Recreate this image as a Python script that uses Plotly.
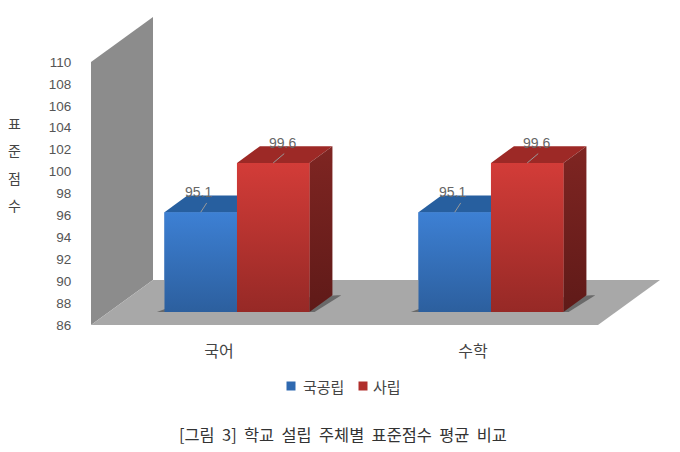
import plotly.graph_objects as go

categories = ["국어", "수학"]
public_scores = [95.1, 95.1]
private_scores = [99.6, 99.6]
y_ticks = list(range(86, 112, 2))
y_title_chars = ["표", "준", "점", "수"]
series_names = ["국공립", "사립"]
caption = "[그림 3] 학교 설립 주체별 표준점수 평균 비교"

FONT = "Noto Sans CJK KR"

# pixel scale of the fake 3d box
W, H = 680, 452
LEFT, RIGHT, TOP, BOTTOM = 91, 665, 8, 325
CAT_PX = 254.0
VAL_PX = 263.0 / 24
DEPTH_X, DEPTH_Y = 62.0, 45.0
X0_PX = 219.0  # where the first category sits on the front edge of the floor
BAR_W = 72.5 / CAT_PX
BAR_DEPTH = 0.29
BAR_BACK = 0.66


def project(x, v, d):
    # category position, value and depth (0 front, 1 back wall) to axis coords
    return x + d * DEPTH_X / CAT_PX, v + d * DEPTH_Y / VAL_PX


def poly(points, **kw):
    xs, ys = [], []
    for p in points:
        px, py = project(*p)
        xs.append(px)
        ys.append(py)
    xs.append(xs[0])
    ys.append(ys[0])
    return go.Scatter(x=xs, y=ys, mode="lines", fill="toself", line=dict(width=0),
                      showlegend=False, hoverinfo="skip", **kw)


def grad(top, bottom):
    return dict(type="vertical", colorscale=[[0, bottom], [1, top]])


def paper_x(px):
    # paper coords follow the plot area, not the page
    return (px - LEFT) / (RIGHT - LEFT)


def paper_y(py):
    return 1 - (py - TOP) / (BOTTOM - TOP)


def page_text(px, py, text, size, colour):
    fig.add_annotation(x=paper_x(px), y=paper_y(py), xref="paper", yref="paper", text=text,
                       xanchor="center", yanchor="middle", showarrow=False,
                       font=dict(family=FONT, size=size, color=colour))


fig = go.Figure()

x_wall = (LEFT - X0_PX) / CAT_PX
x_floor_end = (598 - X0_PX) / CAT_PX
base = y_ticks[0]
top_v = y_ticks[-1]

fig.add_trace(poly([(x_wall, base, 0), (x_wall, top_v, 0), (x_wall, top_v, 1), (x_wall, base, 1)],
                   fillcolor="#8c8c8c"))
fig.add_trace(poly([(x_wall, base, 0), (x_wall, base, 1), (x_floor_end, base, 1), (x_floor_end, base, 0)],
                   fillcolor="#a8a8a8"))

shift = BAR_DEPTH * DEPTH_X / CAT_PX
lift = BAR_DEPTH * DEPTH_Y / VAL_PX

for i in range(len(categories)):
    xl = i - BAR_W
    xr = i + BAR_W
    # shadow on the floor
    fig.add_trace(poly([(xl - 0.03, base, BAR_DEPTH), (xl, base, BAR_DEPTH + 0.12),
                        (xr + 0.02, base, BAR_BACK), (xr + 0.035, base, BAR_BACK),
                        (xr + 0.02, base, BAR_DEPTH)], fillcolor="#6a6a6a"))

# native bars carry the values, gradient faces go on top
fig.add_trace(go.Bar(x=[i + shift - BAR_W / 2 for i in range(len(categories))],
                     y=[v - base for v in public_scores], base=base + lift, width=BAR_W,
                     name=series_names[0], marker=dict(color="#2f69b0", line=dict(width=0)),
                     hoverinfo="skip", showlegend=False))
fig.add_trace(go.Bar(x=[i + shift + BAR_W / 2 for i in range(len(categories))],
                     y=[v - base for v in private_scores], base=base + lift, width=BAR_W,
                     name=series_names[1], marker=dict(color="#b02f2c", line=dict(width=0)),
                     hoverinfo="skip", showlegend=False))

for i in range(len(categories)):
    pub = public_scores[i]
    pri = private_scores[i]
    xl, xm, xr = i - BAR_W, i, i + BAR_W
    # blue
    fig.add_trace(poly([(xl, pub, BAR_DEPTH), (xl, pub, BAR_BACK), (xm, pub, BAR_BACK), (xm, pub, BAR_DEPTH)],
                       fillcolor="#275f9f"))
    fig.add_trace(poly([(xl, base, BAR_DEPTH), (xl, pub, BAR_DEPTH), (xm, pub, BAR_DEPTH), (xm, base, BAR_DEPTH)],
                       fillgradient=grad("#3d80d4", "#2c5f9e")))
    # red
    fig.add_trace(poly([(xm, pri, BAR_DEPTH), (xm, pri, BAR_BACK), (xr, pri, BAR_BACK), (xr, pri, BAR_DEPTH)],
                       fillcolor="#9d2926"))
    fig.add_trace(poly([(xr, base, BAR_DEPTH), (xr, pri, BAR_DEPTH), (xr, pri, BAR_BACK), (xr, base, BAR_BACK)],
                       fillgradient=grad("#7f2522", "#5f1a18")))
    fig.add_trace(poly([(xm, base, BAR_DEPTH), (xm, pri, BAR_DEPTH), (xr, pri, BAR_DEPTH), (xr, base, BAR_DEPTH)],
                       fillgradient=grad("#d33c38", "#962926")))

    # value labels and their little leader lines
    for v, cx, dx_px, lead_px in [(pub, (xl + xm) / 2, -2, 6), (pri, (xm + xr) / 2, 9, 11)]:
        sx, sy = project(cx, v, BAR_DEPTH)
        fig.add_trace(go.Scatter(x=[sx, sx + lead_px / CAT_PX], y=[sy, sy + 0.85], mode="lines",
                                 line=dict(color="#9a9a9a", width=1), showlegend=False, hoverinfo="skip"))
        fig.add_annotation(x=sx + dx_px / CAT_PX, y=sy, text=f"{v}", showarrow=False, yshift=20,
                           font=dict(family="Liberation Sans", size=14, color="#666666"))

for n, ch in enumerate(y_title_chars):
    page_text(14, 123 + n * 27.3, ch, 14, "#444444")

# legend by hand, the native one cannot sit the text this close to its swatch
for swatch_px, text_px, colour, name in [(291, 323, "#2f69b0", series_names[0]),
                                         (363, 387, "#b02f2c", series_names[1])]:
    fig.add_shape(type="rect", xref="paper", yref="paper", line=dict(width=0), fillcolor=colour,
                  x0=paper_x(swatch_px - 4.5), x1=paper_x(swatch_px + 4.5),
                  y0=paper_y(386 + 4.5), y1=paper_y(386 - 4.5))
    page_text(text_px, 386, name, 15, "#444444")

page_text(343, 434, caption.replace(" ", "\u00a0\u00a0"), 16.4, "#333333")

fig.update_layout(
    width=W, height=H,
    margin=dict(l=LEFT, r=W - RIGHT, t=TOP, b=H - BOTTOM, pad=0),
    paper_bgcolor="white", plot_bgcolor="white",
    barmode="overlay",
    showlegend=False,
    font=dict(family=FONT, color="#444444"),
)
fig.update_xaxes(range=[(LEFT - X0_PX) / CAT_PX, (RIGHT - X0_PX) / CAT_PX],
                 tickmode="array", tickvals=list(range(len(categories))), ticktext=categories,
                 ticks="outside", ticklen=12, tickcolor="white", showgrid=False, zeroline=False,
                 showline=False, tickfont=dict(family=FONT, size=16, color="#444444"))
fig.update_yaxes(range=[base, base + (BOTTOM - TOP) / VAL_PX],
                 tickmode="array", tickvals=y_ticks, ticktext=[str(t) for t in y_ticks],
                 ticks="outside", ticklen=16, tickcolor="white", showgrid=False, zeroline=False,
                 showline=False, tickfont=dict(family="Liberation Sans", size=13.5, color="#555555"))

# browser's default body margin would push everything 8px
fig.write_html("out.html", config=dict(displayModeBar=False),
               post_script="document.body.style.margin='0';")
